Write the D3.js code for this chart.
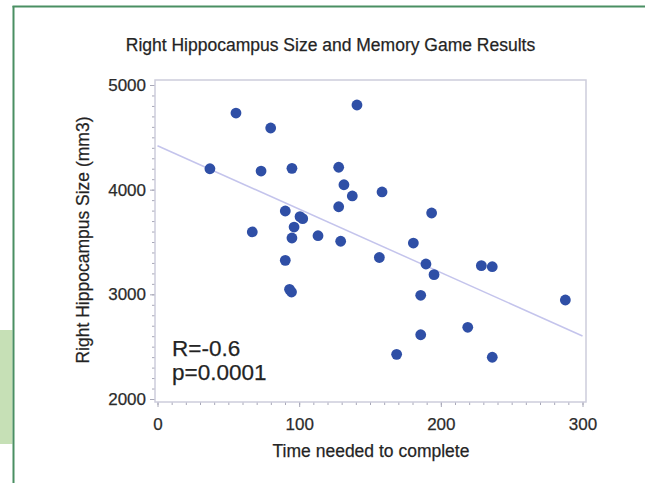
<!DOCTYPE html>
<html>
<head>
<meta charset="utf-8">
<script src="https://cdnjs.cloudflare.com/ajax/libs/d3/7.8.5/d3.min.js"></script>
<style>
  body { margin: 0; background: #fff; }
  svg { display: block; font-family: "Liberation Sans", Arial, Helvetica, sans-serif; }
  svg text { stroke: #333; stroke-width: 0.25px; }
  .axis text { fill: #2a2a2a; font-size: 17px; }
  .axis line { stroke: #a8a8b8; }
  .axis path { display: none; }
</style>
</head>
<body>
<div id="chart"></div>
<script>
// Chart data
var timeNeeded = [37, 55.4, 79.9, 73.1, 94.9, 127.9, 131.6, 137.5, 127.9, 90.2,
  100.6, 102.5, 96.4, 66.9, 94.9, 113.3, 129.3, 90.2, 140.8, 158.5,
  193.5, 180.6, 156.6, 189.5, 228.6, 236.3, 195.2, 287.9, 185.8, 219,
  185.8, 168.8, 236.3, 93.2, 94.6];
var hippoSize = [4200, 4732, 4589, 4178, 4204, 4214, 4047, 3940, 3837, 3796,
  3742, 3723, 3643, 3596, 3538, 3560, 3507, 3325, 4809, 3978,
  3777, 3490, 3352, 3290, 3274, 3264, 3188, 2946, 2991, 2685,
  2614, 2427, 2399, 3048, 3022];

// fitted line end points
var fitX = [0, 300];
var fitY = [4420, 2602];

var xTicks = [0, 100, 200, 300];
var yTicks = [2000, 3000, 4000, 5000];
var statLines = ["R=-0.6", "p=0.0001"];

// SVG area
var svgWidth = 645;
var svgHeight = 483;

// plot frame
var frame = { left: 155, top: 80, right: 586, bottom: 402 };

var svg = d3.select("#chart")
  .append("svg")
  .attr("width", svgWidth)
  .attr("height", svgHeight);

// page decoration (green rules and side tab)
svg.append("rect")
  .attr("x", 0).attr("y", 330)
  .attr("width", 12.5).attr("height", 114)
  .attr("fill", "#c6e0b6");
svg.append("line")
  .attr("x1", 13.5).attr("y1", 6).attr("x2", 13.5).attr("y2", svgHeight)
  .attr("stroke", "#4a8f63").attr("stroke-width", 2);
svg.append("line")
  .attr("x1", 12.5).attr("y1", 6.5).attr("x2", svgWidth).attr("y2", 6.5)
  .attr("stroke", "#4a8f63").attr("stroke-width", 2);

// scales
var xScale = d3.scaleLinear()
  .domain([0, 300])
  .range([157.5, 582.5]);

var yScale = d3.scaleLinear()
  .domain([2000, 5000])
  .range([399, 85]);

// minor ticks
svg.append("g")
  .attr("class", "axis")
  .attr("transform", `translate(0, ${frame.bottom})`)
  .call(d3.axisBottom(xScale).tickValues(d3.range(0, 301, 10)).tickSize(3).tickFormat(""));

svg.append("g")
  .attr("class", "axis")
  .attr("transform", `translate(${frame.left}, 0)`)
  .call(d3.axisLeft(yScale).tickValues(d3.range(2000, 5001, 100)).tickSize(3).tickFormat(""));

// major ticks
svg.append("g")
  .attr("class", "axis")
  .attr("transform", `translate(0, ${frame.bottom})`)
  .call(d3.axisBottom(xScale).tickValues(xTicks).tickSize(5).tickPadding(11).tickFormat(d3.format("d")));

svg.append("g")
  .attr("class", "axis")
  .attr("transform", `translate(${frame.left}, 0)`)
  .call(d3.axisLeft(yScale).tickValues(yTicks).tickSize(5).tickPadding(4).tickFormat(d3.format("d")));

// frame
svg.append("rect")
  .attr("x", frame.left)
  .attr("y", frame.top)
  .attr("width", frame.right - frame.left)
  .attr("height", frame.bottom - frame.top)
  .attr("fill", "none")
  .attr("stroke", "#cdcddb")
  .attr("stroke-width", 1.5);

// regression line
svg.append("line")
  .attr("x1", xScale(fitX[0])).attr("y1", yScale(fitY[0]))
  .attr("x2", xScale(fitX[1])).attr("y2", yScale(fitY[1]))
  .attr("stroke", "#c4c4ec")
  .attr("stroke-width", 1.5);

// points
var points = timeNeeded.map(function(t, i) { return { t: t, size: hippoSize[i] }; });

svg.selectAll("circle.pt")
  .data(points)
  .enter()
  .append("circle")
  .attr("class", "pt")
  .attr("cx", d => xScale(d.t))
  .attr("cy", d => yScale(d.size))
  .attr("r", 5.4)
  .attr("fill", "#2f4fa6");

// stats text
svg.selectAll("text.stat")
  .data(statLines)
  .enter()
  .append("text")
  .attr("class", "stat")
  .attr("x", 172)
  .attr("y", (d, i) => 356 + i * 24)
  .attr("font-size", "22.5px")
  .attr("fill", "#222")
  .text(d => d);

// title
svg.append("text")
  .attr("x", 330.5)
  .attr("y", 51)
  .attr("text-anchor", "middle")
  .attr("font-size", "17.5px")
  .attr("fill", "#222")
  .text("Right Hippocampus Size and Memory Game Results");

// axis labels
svg.append("text")
  .attr("transform", "translate(89, 240) rotate(-90)")
  .attr("text-anchor", "middle")
  .attr("font-size", "17.5px")
  .attr("fill", "#222")
  .text("Right Hippocampus Size (mm3)");

svg.append("text")
  .attr("x", 371)
  .attr("y", 457)
  .attr("text-anchor", "middle")
  .attr("font-size", "17.5px")
  .attr("fill", "#222")
  .text("Time needed to complete");
</script>
</body>
</html>
